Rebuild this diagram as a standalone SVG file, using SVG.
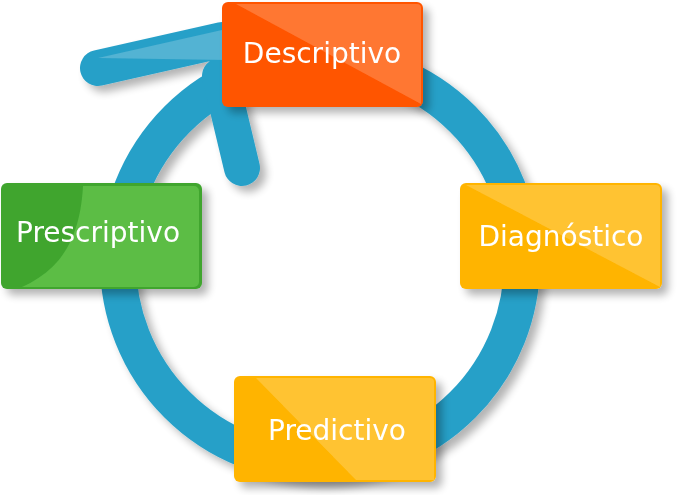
<svg xmlns="http://www.w3.org/2000/svg" width="685" height="495" viewBox="0 0 685 495">
<defs>
<filter id="sh" x="-20%" y="-20%" width="150%" height="150%"><feGaussianBlur in="SourceAlpha" stdDeviation="4"/><feOffset dx="6" dy="6"/><feComponentTransfer><feFuncA type="linear" slope="0.3"/></feComponentTransfer><feMerge><feMergeNode/><feMergeNode in="SourceGraphic"/></feMerge></filter>
</defs>
<style>
.t{font-family:"DejaVu Sans","Noto Sans",sans-serif;font-size:28px;fill:#fff;text-anchor:middle}
.ring{fill:none;stroke:#28a0c8;stroke-width:36;stroke-linecap:round}
.gl{fill:#fff;opacity:0.2}
</style>
<g id="connectors" filter="url(#sh)">
<circle class="ring" cx="320" cy="262" r="202"/>
<path class="ring" d="M98 68 L222 40 M220 76 L242 168"/>
<path d="M98 58 L222 30 L226 60 Z" fill="#fff" opacity="0.2"/>
</g>
<g id="descriptivo" filter="url(#sh)">
<rect x="222" y="2" width="201" height="105" rx="6" fill="#ff5500"/>
<path d="M236 4 H417 a4 4 0 0 1 4 4 V104 Z" class="gl"/>
<text class="t" x="322" y="63">Descriptivo</text>
</g>
<g id="diagnostico" filter="url(#sh)">
<rect x="460" y="183" width="202" height="106" rx="6" fill="#ffb400"/>
<path d="M466 185 H656 a4 4 0 0 1 4 4 V287 Z" class="gl"/>
<text class="t" x="561" y="246">Diagnóstico</text>
</g>
<g id="prescriptivo" filter="url(#sh)">
<rect x="1" y="183" width="201" height="106" rx="6" fill="#3fa52f"/>
<path d="M83 186 H194 a5 5 0 0 1 5 5 V282 a5 5 0 0 1 -5 5 H22 C60 270 80 240 83 186 Z" fill="#5bbd45"/>
<text class="t" x="98" y="242">Prescriptivo</text>
</g>
<g id="predictivo" filter="url(#sh)">
<rect x="234" y="376" width="202" height="106" rx="6" fill="#ffb400"/>
<path d="M256 378 H430 a4 4 0 0 1 4 4 V480 H356 Z" class="gl"/>
<text class="t" x="337" y="440">Predictivo</text>
</g>
</svg>
